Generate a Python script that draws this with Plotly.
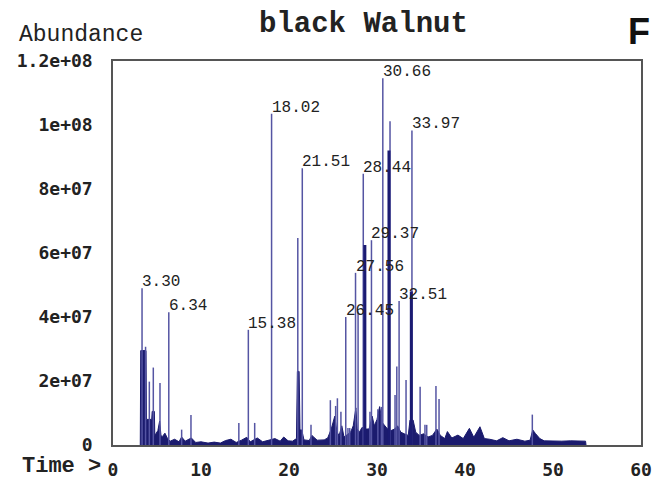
import plotly.graph_objects as go

# ---------------- data ----------------
# labelled peaks: retention time (min), abundance
peak_times = [3.30, 6.34, 15.38, 18.02, 21.51, 26.45, 27.56, 28.44, 29.37, 30.66, 32.51, 33.97]
peak_heights = [49.0e6, 41.5e6, 36.0e6, 103.5e6, 86.5e6, 40.0e6, 53.8e6, 84.8e6, 64.0e6, 114.6e6, 45.0e6, 98.3e6]
peak_labels = ["3.30", "6.34", "15.38", "18.02", "21.51", "26.45", "27.56", "28.44", "29.37", "30.66", "32.51", "33.97"]

# other thin peaks
minor_times = [3.70, 4.13, 4.58, 5.34, 7.80, 8.86, 14.30, 16.10, 21.00, 22.50, 24.70, 25.30,
               25.50, 25.90, 26.70, 26.90, 27.85, 29.20, 30.10, 30.50, 31.48, 32.05, 32.25,
               33.30, 34.90, 35.45, 35.65, 36.70, 37.05, 47.65]
minor_heights = [30.7e6, 19.8e6, 24.2e6, 19.4e6, 4.8e6, 9.4e6, 6.9e6, 6.9e6, 64.7e6, 6.3e6, 14.0e6, 12.2e6,
                 14.6e6, 10.4e6, 5.3e6, 5.3e6, 41.7e6, 10.4e6, 11.2e6, 11.9e6, 101.2e6, 15.6e6, 24.5e6,
                 20.3e6, 18.2e6, 6.3e6, 6.3e6, 18.4e6, 14.4e6, 9.5e6]

# thick (dark) peaks
thick_times = [28.62, 31.36, 33.90]
thick_heights = [62.5e6, 92.0e6, 48.0e6]

# filled baseline of the total ion chromatogram
base_times = [3.10, 3.15, 3.75, 3.80, 4.40, 4.45, 4.70, 4.75, 5.10, 5.30, 5.45, 5.60, 5.90, 6.20, 6.50,
              7.00, 7.50, 7.80, 8.20, 8.90, 9.40, 10.00, 10.80, 11.50, 12.20, 12.80, 13.40, 14.00,
              14.60, 15.20, 15.60, 16.40, 17.00, 17.60, 18.40, 19.00, 19.40, 19.90, 20.40, 20.85,
              20.95, 21.15, 21.25, 21.45, 21.70, 22.30, 22.60, 23.20, 24.00, 24.40, 24.80, 25.20,
              25.45, 25.70, 26.00, 26.25, 26.55, 27.00, 27.30, 27.60, 27.75, 28.00, 28.30, 28.80,
              29.10, 29.45, 29.70, 30.00, 30.30, 30.60, 30.90, 31.20, 31.60, 32.00, 32.35, 32.70,
              33.10, 33.55, 33.75, 34.10, 34.40, 34.80, 35.30, 35.80, 36.30, 36.80, 37.20, 37.70,
              38.00, 38.50, 39.20, 39.80, 40.50, 41.00, 41.70, 42.20, 42.80, 43.60, 44.30, 45.00,
              45.90, 46.80, 47.40, 47.70, 48.00, 48.50, 49.00, 50.00, 51.00, 52.00, 53.00, 53.70,
              53.75]
base_values = [0.0, 29.5e6, 29.5e6, 8.0e6, 8.0e6, 10.5e6, 10.5e6, 3.0e6, 4.5e6, 7.5e6, 3.0e6, 2.6e6,
               3.7e6, 2.0e6, 1.2e6, 1.8e6, 1.0e6, 2.5e6, 1.2e6, 2.2e6, 0.8e6, 1.0e6, 0.6e6, 0.9e6,
               0.6e6, 1.4e6, 1.8e6, 0.8e6, 1.5e6, 2.4e6, 1.0e6, 2.2e6, 1.0e6, 1.4e6, 2.0e6, 1.2e6,
               2.5e6, 1.3e6, 1.2e6, 2.0e6, 23.0e6, 23.0e6, 4.7e6, 4.7e6, 1.6e6, 1.4e6, 3.0e6, 1.5e6,
               1.6e6, 2.2e6, 5.0e6, 9.0e6, 4.0e6, 3.0e6, 6.0e6, 2.5e6, 3.0e6, 4.0e6, 6.0e6, 11.6e6,
               5.0e6, 4.0e6, 5.5e6, 5.0e6, 5.0e6, 9.0e6, 6.0e6, 8.0e6, 12.0e6, 7.0e6, 6.0e6, 5.0e6,
               4.5e6, 5.0e6, 6.0e6, 4.0e6, 3.5e6, 3.0e6, 7.8e6, 7.8e6, 4.0e6, 3.0e6, 3.5e6, 2.5e6,
               3.0e6, 5.0e6, 3.0e6, 2.0e6, 4.2e6, 2.2e6, 3.1e6, 2.0e6, 5.2e6, 2.4e6, 5.7e6, 2.0e6,
               1.8e6, 1.3e6, 2.3e6, 1.3e6, 1.8e6, 1.2e6, 1.5e6, 4.7e6, 3.6e6, 2.0e6, 1.3e6, 1.2e6,
               1.2e6, 1.3e6, 1.2e6, 1.2e6, 0.0]

x_tick_vals = [0, 10, 20, 30, 40, 50, 60]
x_tick_text = ["0", "10", "20", "30", "40", "50", "60"]
y_tick_vals = [0, 2e7, 4e7, 6e7, 8e7, 1e8, 1.2e8]
y_tick_text = ["0", "2e+07", "4e+07", "6e+07", "8e+07", "1e+08", "1.2e+08"]


def segments(times, heights):
    xs, ys = [], []
    for t, h in zip(times, heights):
        xs += [t, t, None]
        ys += [0, h, None]
    return xs, ys


fig = go.Figure()

fig.add_trace(go.Scatter(x=base_times, y=base_values, mode="lines", fill="tozeroy",
                         line=dict(color="#1b1b6e", width=1), fillcolor="#1b1b6e",
                         hoverinfo="skip", showlegend=False))

all_thin_t = peak_times + minor_times
all_thin_h = peak_heights + minor_heights
sx, sy = segments(all_thin_t, all_thin_h)
fig.add_trace(go.Scatter(x=sx, y=sy, mode="lines", line=dict(color="#5555a3", width=1.5),
                         hoverinfo="skip", showlegend=False))

tx, ty = segments(thick_times, thick_heights)
fig.add_trace(go.Scatter(x=tx, y=ty, mode="lines", line=dict(color="#1b1b72", width=3),
                         hoverinfo="skip", showlegend=False))

annotations = []
for t, h, lab in zip(peak_times, peak_heights, peak_labels):
    annotations.append(dict(x=t, y=h, xref="x", yref="y", text=lab, showarrow=False,
                            xanchor="left", yanchor="middle", xshift=-2, yshift=6,
                            font=dict(family="Liberation Mono", size=16, color="#222222")))

annotations += [
    dict(x=0.475, y=1.096, xref="paper", yref="paper", text="black Walnut", showarrow=False,
         xanchor="center", yanchor="middle",
         font=dict(family="Liberation Mono", size=29, color="#222222", weight="bold")),
    dict(x=-0.181, y=1.068, xref="paper", yref="paper", text="Abundance", showarrow=False,
         xanchor="left", yanchor="middle",
         font=dict(family="Liberation Mono", size=23, color="#222222")),
    dict(x=1.02, y=1.078, xref="paper", yref="paper", text="F", showarrow=False,
         xanchor="right", yanchor="middle",
         font=dict(family="Liberation Sans", size=36, color="#111111", weight="bold")),
    dict(x=-0.176, y=-0.057, xref="paper", yref="paper", text="Time >", showarrow=False,
         xanchor="left", yanchor="middle",
         font=dict(family="Liberation Mono", size=22, color="#222222", weight="bold")),
]

fig.update_layout(
    width=668, height=480,
    margin=dict(l=113, r=27, t=61, b=35, autoexpand=False),
    paper_bgcolor="white", plot_bgcolor="white",
    annotations=annotations,
    xaxis=dict(range=[0, 60], tickvals=x_tick_vals, ticktext=x_tick_text, automargin=False,
               showline=True, mirror=True, linecolor="#555555", linewidth=1.5,
               showgrid=False, zeroline=False, ticks="", ticklabelstandoff=8,
               tickfont=dict(family="DejaVu Sans Mono", size=18, color="#222222", weight="bold")),
    yaxis=dict(range=[0, 1.2e8], tickvals=y_tick_vals, ticktext=y_tick_text, automargin=False,
               showline=True, mirror=True, linecolor="#555555", linewidth=1.5,
               showgrid=False, zeroline=False, ticks="", ticklabelstandoff=15,
               tickfont=dict(family="DejaVu Sans Mono", size=18, color="#222222", weight="bold")),
)

fig.write_html("out.html")
